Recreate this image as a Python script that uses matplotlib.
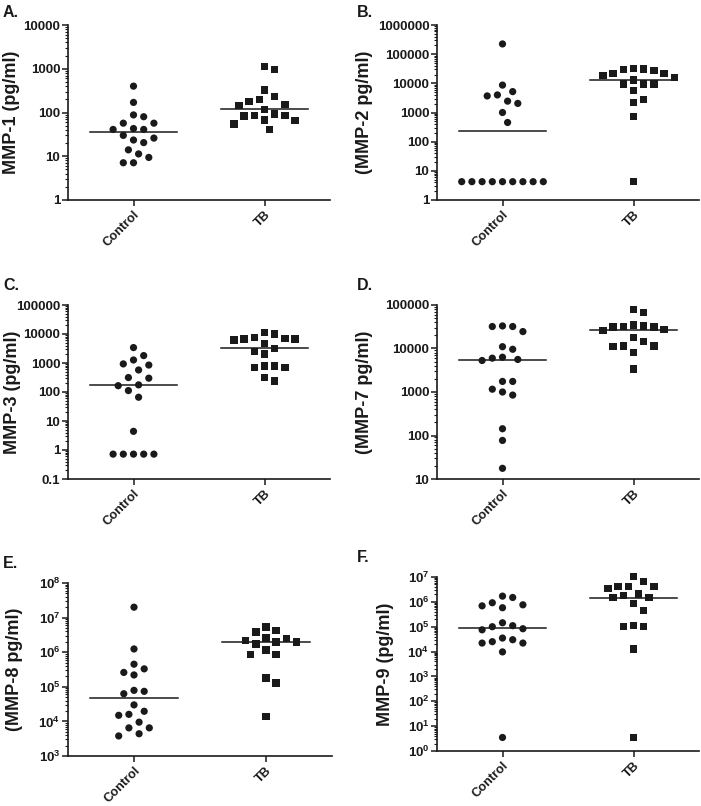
import numpy as np
import matplotlib
matplotlib.use("Agg")
import matplotlib.pyplot as plt
from matplotlib.ticker import LogLocator, FuncFormatter, NullFormatter

plt.rcParams['font.family'] = ['Liberation Sans', 'DejaVu Sans']
plt.rcParams['font.weight'] = 'bold'
plt.rcParams['mathtext.fontset'] = 'custom'
plt.rcParams['mathtext.rm'] = 'Liberation Sans:bold'
plt.rcParams['mathtext.bf'] = 'Liberation Sans:bold'

groups = ["Control", "TB"]
letters = ["A.", "B.", "C.", "D.", "E.", "F."]
ylabels = ["MMP-1 (pg/ml)", "(MMP-2 pg/ml)", "MMP-3 (pg/ml)",
           "(MMP-7 pg/ml)", "(MMP-8 pg/ml)", "MMP-9 (pg/ml)"]
ylims = [(1, 1e4), (1, 1e6), (0.1, 1e5), (10, 1e5), (1e3, 1e8), (1, 1e7)]
power_labels = [False, False, False, False, True, True]

# values (pg/ml)
mmp1_control = [400, 170, 88, 80, 57, 57, 43, 41, 41, 30, 26, 23.5, 20.5, 14, 11.3, 9.4, 7.1, 7.1]
mmp1_tb = [1120, 970, 325, 230, 200, 177, 154, 146, 118, 92, 85, 85, 83, 67, 65, 55, 41]

mmp2_control = [224000, 8700, 5200, 4000, 3700, 2450, 2050, 1000, 455,
                4.25, 4.25, 4.25, 4.25, 4.25, 4.25, 4.25, 4.25, 4.25]
mmp2_tb = [32700, 31000, 30000, 27000, 22000, 22000, 18500, 15600, 13000,
           9600, 9600, 9600, 5600, 2800, 2200, 720, 4.25]

mmp3_control = [3400, 1800, 1270, 930, 850, 575, 315, 300, 176, 165, 112, 66, 4.4,
                0.72, 0.72, 0.72, 0.72, 0.72]
mmp3_tb = [11400, 10000, 7500, 7000, 6600, 6600, 6200, 4800, 3200, 2450, 2050,
           800, 800, 700, 690, 315, 240]

mmp7_control = [33000, 32000, 32000, 24500, 11000, 9600, 6300, 6000, 5600, 5300,
                1750, 1750, 1160, 1000, 850, 143, 77, 17.6]
mmp7_tb = [79000, 68000, 35000, 33000, 32000, 31000, 31000, 27000, 26000, 18000,
           14500, 11500, 11500, 11200, 8200, 3400]

mmp8_control = [2e7, 1.24e6, 4.5e5, 3.3e5, 2.6e5, 2.2e5, 7.9e4, 7.4e4, 6.3e4, 3.0e4,
                1.96e4, 1.6e4, 1.5e4, 9.5e3, 6.5e3, 6.5e3, 4.4e3, 3.8e3]
mmp8_tb = [5.4e6, 4.2e6, 3.8e6, 2.6e6, 2.45e6, 2.15e6, 1.95e6, 1.95e6, 1.7e6,
           1.17e6, 8.7e5, 8.7e5, 1.78e5, 1.28e5, 1.4e4]

mmp9_control = [1.7e6, 1.5e6, 9.2e5, 7.6e5, 6.9e5, 5.8e5, 1.44e5, 1.1e5, 1.0e5, 8.3e4,
                7.5e4, 3.5e4, 3.0e4, 2.5e4, 2.2e4, 2.2e4, 9.7e3, 3.5]
mmp9_tb = [1.03e7, 6.5e6, 4.1e6, 4.1e6, 4.1e6, 3.4e6, 2.1e6, 1.8e6, 1.48e6, 1.48e6,
           8.4e5, 4.4e5, 1.1e5, 1.0e5, 1.0e5, 1.25e4, 3.5]

panels = [(mmp1_control, mmp1_tb), (mmp2_control, mmp2_tb), (mmp3_control, mmp3_tb),
          (mmp7_control, mmp7_tb), (mmp8_control, mmp8_tb), (mmp9_control, mmp9_tb)]

W, H = 701, 806
fig = plt.figure(figsize=(W / 100, H / 100), dpi=100)

# axes boxes in pixels: left, top, right, bottom
boxes = [(68, 25, 330, 200), (437, 25, 699, 200),
         (68, 305, 330, 479), (437, 305, 699, 479),
         (68, 583, 332, 756), (437, 577, 699, 751)]
label_x = [-0.183, -0.246, -0.181, -0.245, -0.17, -0.163]
dark = "#1a1a1a"


def swarm(ax, xc, vals, d=10.2):
    # simple beeswarm in pixel space, grid step of half a point spacing
    pts = ax.transData.transform(np.column_stack([np.full(len(vals), xc), vals]))
    ys = pts[:, 1]
    px_per_unit = abs(ax.transData.transform((1, 1))[0] - ax.transData.transform((0, 1))[0])
    step = d / 2
    cands = [0]
    for k in range(1, 40):
        cands += [k, -k]
    placed = []
    offs = np.zeros(len(vals))
    for i in np.argsort(-ys, kind="stable"):
        for k in cands:
            dx = k * step
            ok = True
            for (px, py) in placed:
                if (px - dx) ** 2 + (py - ys[i]) ** 2 < (d - 0.01) ** 2:
                    ok = False
                    break
            if ok:
                break
        placed.append((dx, ys[i]))
        offs[i] = dx / px_per_unit
    return xc + offs


def plain_fmt(v, pos):
    if v >= 1:
        return str(int(round(v)))
    return "%g" % v


def pow_fmt(v, pos):
    return r"$\mathbf{10^{%d}}$" % int(round(np.log10(v)))


for i, (ctrl, tb) in enumerate(panels):
    l, t, r, b = boxes[i]
    ax = fig.add_axes([l / W, 1 - b / H, (r - l) / W, (b - t) / H])
    ax.set_yscale("log")
    ax.set_ylim(*ylims[i])
    ax.set_xlim(-0.5, 1.5)

    for j, vals in enumerate([ctrl, tb]):
        xs = swarm(ax, j, vals)
        ax.scatter(xs, vals, s=27 if j == 0 else 29, marker="o" if j == 0 else "s",
                   color=dark, edgecolors="none", zorder=3, clip_on=False)
        med = np.median(vals)
        ax.plot([j - 0.33, j + 0.33], [med, med], color=dark, lw=1.1, zorder=2)

    for s in ["top", "right"]:
        ax.spines[s].set_visible(False)
    for s in ["left", "bottom"]:
        ax.spines[s].set_linewidth(1.2)
        ax.spines[s].set_color(dark)

    ax.yaxis.set_major_locator(LogLocator(base=10, numticks=20))
    ax.yaxis.set_minor_locator(LogLocator(base=10, subs=np.arange(2, 10), numticks=100))
    ax.yaxis.set_minor_formatter(NullFormatter())
    ax.yaxis.set_major_formatter(FuncFormatter(pow_fmt if power_labels[i] else plain_fmt))
    ax.tick_params(axis="y", which="major", length=4, width=1.1, pad=1.5,
                   labelsize=9.5, colors=dark)
    ax.tick_params(axis="y", which="minor", length=2.2, width=0.8, colors=dark)
    ax.tick_params(axis="x", length=4, width=1.1, pad=2.5, colors=dark)

    ax.set_xticks([0, 1])
    ax.set_xticklabels(groups, rotation=45, ha="right", rotation_mode="anchor",
                       fontsize=9.2, fontweight="bold")

    ax.set_ylabel(ylabels[i], fontsize=13, fontweight="bold", color=dark)
    ax.yaxis.set_label_coords(label_x[i], 0.5)

    lx = 3 if l < 300 else 357
    fig.text(lx / W, 1 - (t - 8 if i < 2 else t - 15) / H, letters[i],
             fontsize=11.5, fontweight="bold", color=dark, va="baseline")

fig.savefig("out.png", dpi=100)
